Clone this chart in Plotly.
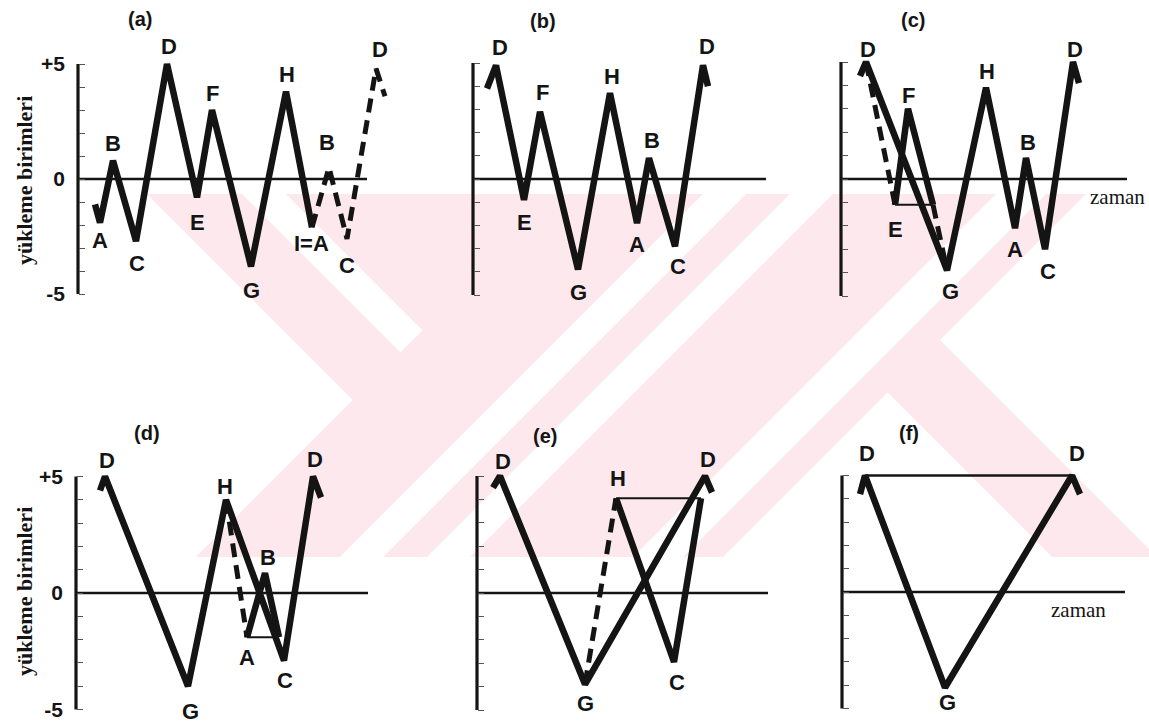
import plotly.graph_objects as go

W, H = 1149, 726

# ---------------------------------------------------------------------------
# Load histories (time in arbitrary units, load in "yükleme birimleri")
# ---------------------------------------------------------------------------
# (a) original history A..I, followed by the repeated part (dashed)
A_T = [1.7, 2.2, 3.5, 5.8, 8.9, 11.9, 13.4, 17.3, 20.8, 23.4]
A_V = [-1.1, -1.9, 0.8, -2.7, 5.0, -0.8, 3.0, -3.8, 3.8, -2.1]
A_LAB = ["", "A", "B", "C", "D", "E", "F", "G", "H", "I=A"]
A_DASH_T = [23.4, 25.1, 26.9, 29.8, 30.7]
A_DASH_V = [-2.1, 0.5, -2.6, 4.8, 3.6]
A_DASH_LAB = ["", "B", "C", "D", ""]

# (b) history rearranged to start at the highest peak D
B_T = [1.4, 2.3, 5.1, 6.7, 10.5, 13.7, 16.4, 17.6, 20.2, 23.0, 23.5]
B_V = [3.9, 4.9, -0.9, 2.9, -3.9, 3.7, -1.9, 0.9, -2.9, 4.9, 4.0]
B_LAB = ["", "D", "E", "F", "G", "H", "A", "B", "C", "D", ""]

# (c) cycle E-F-E' extracted
C_T = [1.9, 2.5, 10.6, 14.5, 17.4, 18.5, 20.4, 23.2, 23.8]
C_V = [4.4, 5.0, -3.9, 3.9, -2.1, 0.9, -3.0, 5.0, 4.1]
C_LAB = ["", "D", "G", "H", "A", "B", "C", "D", ""]
C_CYC_T = [5.4, 6.7, 9.2]
C_CYC_V = [-1.1, 3.0, -1.1]
C_CYC_LAB = ["E", "F", ""]
C_OLD1_T = [2.5, 5.4]
C_OLD1_V = [5.0, -1.1]
C_OLD2_T = [9.2, 10.6]
C_OLD2_V = [-1.1, -3.9]

# (d) cycle A-B-A' extracted
D_T = [2.4, 2.9, 11.2, 15.0, 20.8, 23.7, 24.5]
D_V = [4.4, 5.0, -4.0, 4.0, -2.9, 5.0, 4.1]
D_LAB = ["", "D", "G", "H", "C", "D", ""]
D_CYC_T = [17.1, 18.9, 20.3]
D_CYC_V = [-1.9, 0.85, -1.9]
D_CYC_LAB = ["A", "B", ""]
D_OLD_T = [15.0, 17.1]
D_OLD_V = [4.0, -1.9]

# (e) cycle H-C-H' extracted
E_T = [1.6, 2.3, 10.8, 22.8, 23.5]
E_V = [4.5, 5.0, -3.9, 5.0, 4.3]
E_LAB = ["", "D", "G", "D", ""]
E_CYC_T = [13.9, 19.7, 22.4]
E_CYC_V = [4.05, -2.95, 4.05]
E_CYC_LAB = ["H", "C", ""]
E_OLD_T = [10.8, 13.9]
E_OLD_V = [-3.9, 4.05]

# (f) remaining range D-G-D
F_T = [1.8, 2.3, 10.3, 23.0, 23.8]
F_V = [4.2, 5.0, -4.1, 5.0, 4.2]
F_LAB = ["", "D", "G", "D", ""]

Y_TICKS = [-5, -4, -3, -2, -1, 0, 1, 2, 3, 4, 5]
Y_TICK_TEXT = ["-5", "", "", "", "", "0", "", "", "", "", "+5"]
Y_TITLE = "yükleme birimleri"
X_TITLE = "zaman"

# ---------------------------------------------------------------------------
# Panel geometry (pixels): origin x, zero-line y, px per load unit,
# end of the time axis, right end of the x range
# ---------------------------------------------------------------------------
PANELS = {
    "a": dict(x0=78, y0=179, s=23.0, tend=28.9, thi=31.5),
    "b": dict(x0=473, y0=179, s=23.2, tend=29.3, thi=31.5),
    "c": dict(x0=841, y0=179, s=23.4, tend=28.6, thi=30.0),
    "d": dict(x0=76, y0=593, s=23.3, tend=29.2, thi=31.5),
    "e": dict(x0=477, y0=593, s=23.4, tend=29.1, thi=31.5),
    "f": dict(x0=842, y0=592, s=23.3, tend=28.3, thi=30.0),
}
PX_PER_T = 10.0
T_LO = -0.6
V_LO, V_HI = -5.6, 6.0

INK = "#141414"
PINK = "rgb(253,233,237)"
SANS = "Liberation Sans, Arial, sans-serif"
SERIF = "Liberation Serif, Times New Roman, serif"

fig = go.Figure()

# ---------------------------------------------------------------------------
# Background mark: diagonal bands clipped to a horizontal strip
# ---------------------------------------------------------------------------
STRIP_TOP, STRIP_BOT = 194, 557


def clip(poly, a, b, c):
    """Keep the part of a convex polygon with a*x + b*y <= c."""
    out = []
    n = len(poly)
    for i in range(n):
        p, q = poly[i], poly[(i + 1) % n]
        fp = a * p[0] + b * p[1] - c
        fq = a * q[0] + b * q[1] - c
        if fp <= 0:
            out.append(p)
        if (fp < 0 < fq) or (fq < 0 < fp):
            r = fp / (fp - fq)
            out.append((p[0] + r * (q[0] - p[0]), p[1] + r * (q[1] - p[1])))
    return out


def band(d_lo=None, d_hi=None, u_lo=None, u_hi=None):
    """Region of the strip with d_lo < x-y < d_hi and u_lo < x+y < u_hi."""
    poly = [(0, STRIP_TOP), (W, STRIP_TOP), (W, STRIP_BOT), (0, STRIP_BOT)]
    if d_lo is not None:
        poly = clip(poly, -1, 1, -d_lo)
    if d_hi is not None:
        poly = clip(poly, 1, -1, d_hi)
    if u_lo is not None:
        poly = clip(poly, -1, -1, -u_lo)
    if u_hi is not None:
        poly = clip(poly, 1, 1, u_hi)
    return poly


def add_poly(poly, color):
    if len(poly) < 3:
        return
    path = "M " + " L ".join(f"{x / W:.5f},{1 - y / H:.5f}" for x, y in poly) + " Z"
    fig.add_shape(type="path", path=path, xref="paper", yref="paper",
                  fillcolor=color, line=dict(width=0), layer="below")


# falling arms
add_poly(band(d_lo=-47, d_hi=495, u_hi=1000), PINK)
add_poly(band(d_lo=48, d_hi=92), "white")
add_poly(band(d_lo=495, d_hi=600, u_lo=1000), PINK)
# rising arm on top, with its light stripes
add_poly(band(u_lo=753, u_hi=1280), PINK)
add_poly(band(u_lo=897, u_hi=940), "white")
add_poly(band(u_lo=984, u_hi=1027), "white")
add_poly(band(u_lo=1190, u_hi=1240), "white")

# ---------------------------------------------------------------------------
# Axes
# ---------------------------------------------------------------------------
layout_axes = {}
for k, (name, g) in enumerate(PANELS.items(), start=1):
    xd0 = (g["x0"] + T_LO * PX_PER_T) / W
    xd1 = (g["x0"] + g["thi"] * PX_PER_T) / W
    yd0 = 1 - (g["y0"] - V_LO * g["s"]) / H
    yd1 = 1 - (g["y0"] - V_HI * g["s"]) / H
    sfx = "" if k == 1 else str(k)
    labelled = name in ("a", "d")
    layout_axes["xaxis" + sfx] = dict(
        domain=[xd0, xd1], range=[T_LO, g["thi"]], visible=False,
        anchor="y" + sfx, fixedrange=True)
    layout_axes["yaxis" + sfx] = dict(
        domain=[yd0, yd1], range=[V_LO, V_HI], anchor="free",
        position=g["x0"] / W, showgrid=False, zeroline=False, showline=False,
        ticks="inside", ticklen=6, tickwidth=1.2, tickcolor="#555",
        tickvals=Y_TICKS, ticktext=Y_TICK_TEXT, showticklabels=labelled,
        ticklabelstandoff=13,
        tickfont=dict(family=SANS, size=21, color=INK, weight="bold"),
        fixedrange=True)


def ax(name):
    k = list(PANELS).index(name) + 1
    return ("x" + ("" if k == 1 else str(k)), "y" + ("" if k == 1 else str(k)))


def line(name, t, v, width=6.5, dash=None):
    xa, ya = ax(name)
    fig.add_trace(go.Scatter(
        x=t, y=v, xaxis=xa, yaxis=ya, mode="lines", showlegend=False,
        hoverinfo="skip",
        line=dict(color=INK, width=width, dash=dash)))


def labels(name, t, v, texts, shifts):
    xa, ya = ax(name)
    for ti, vi, txt, (dx, dy) in zip(t, v, texts, shifts):
        if not txt:
            continue
        fig.add_annotation(
            x=ti, y=vi, xref=xa, yref=ya, text=txt, showarrow=False,
            xanchor="center", yanchor="middle", xshift=dx, yshift=dy,
            font=dict(family=SANS, size=22, color=INK, weight="bold"))


# axis frame of every panel: vertical load axis and horizontal time axis
for name, g in PANELS.items():
    line(name, [0, 0], [-5, 5], width=3.2)
    line(name, [0, g["tend"]], [0, 0], width=2.6)

DASH = "14px,8px"

# (a)
line("a", A_T, A_V)
line("a", A_DASH_T, A_DASH_V, width=5, dash=DASH)
labels("a", A_T, A_V, A_LAB,
       [(0, 0), (0, -18), (0, 17), (1, -22), (2, 17), (0, -25),
        (0, 16), (0, -24), (1, 17), (-1, -16)])
labels("a", A_DASH_T, A_DASH_V, A_DASH_LAB,
       [(0, 0), (-2, 25), (0, -27), (4, 19), (0, 0)])

# (b)
line("b", B_T, B_V)
labels("b", B_T, B_V, B_LAB,
       [(0, 0), (4, 18), (0, -23), (2, 19), (0, -23), (2, 17),
        (0, -21), (3, 18), (3, -20), (4, 19), (0, 0)])

# (c)
line("c", C_OLD1_T, C_OLD1_V, width=5, dash=DASH)
line("c", C_OLD2_T, C_OLD2_V, width=5, dash=DASH)
line("c", [C_CYC_T[0], C_CYC_T[2]], [C_CYC_V[0], C_CYC_V[2]], width=2.2)
line("c", C_CYC_T, C_CYC_V)
line("c", C_T, C_V)
labels("c", C_T, C_V, C_LAB,
       [(0, 0), (2, 13), (3, -21), (1, 16), (0, -21), (2, 15),
        (3, -22), (2, 13), (0, 0)])
labels("c", C_CYC_T, C_CYC_V, C_CYC_LAB, [(0, -25), (0, 13), (0, 0)])

# (d)
line("d", D_OLD_T, D_OLD_V, width=5, dash=DASH)
line("d", [D_CYC_T[0], D_CYC_T[2]], [D_CYC_V[0], D_CYC_V[2]], width=2.2)
line("d", D_CYC_T, D_CYC_V)
line("d", D_T, D_V)
labels("d", D_T, D_V, D_LAB,
       [(0, 0), (2, 16), (2, -25), (-1, 13), (1, -20), (2, 17), (0, 0)])
labels("d", D_CYC_T, D_CYC_V, D_CYC_LAB, [(0, -20), (3, 16), (0, 0)])

# (e)
line("e", E_OLD_T, E_OLD_V, width=5, dash=DASH)
line("e", [E_CYC_T[0], E_CYC_T[2]], [E_CYC_V[0], E_CYC_V[2]], width=2.2)
line("e", E_CYC_T, E_CYC_V)
line("e", E_T, E_V)
labels("e", E_T, E_V, E_LAB,
       [(0, 0), (3, 15), (0, -19), (3, 17), (0, 0)])
labels("e", E_CYC_T, E_CYC_V, E_CYC_LAB, [(2, 20), (3, -20), (0, 0)])

# (f)
line("f", [F_T[1], F_T[3]], [F_V[1], F_V[3]], width=2.4)
line("f", F_T, F_V)
labels("f", F_T, F_V, F_LAB,
       [(0, 0), (2, 22), (2, -15), (5, 22), (0, 0)])

# ---------------------------------------------------------------------------
# Panel captions, axis titles
# ---------------------------------------------------------------------------
CAPTIONS = {"a": (140, 19), "b": (543, 21), "c": (913, 20),
            "d": (147, 433), "e": (545, 436), "f": (909, 433)}
for name, (px, py) in CAPTIONS.items():
    fig.add_annotation(x=px / W, y=1 - py / H, xref="paper", yref="paper",
                       text=f"({name})", showarrow=False,
                       xanchor="center", yanchor="middle",
                       font=dict(family=SANS, size=20, color=INK, weight="bold"))

for py in (181, 592):
    fig.add_annotation(x=24 / W, y=1 - py / H, xref="paper", yref="paper",
                       text=Y_TITLE, textangle=-90, showarrow=False,
                       xanchor="center", yanchor="middle",
                       font=dict(family=SERIF, size=22, color=INK, weight="bold"))

for px, py in ((1117, 197), (1078, 610)):
    fig.add_annotation(x=px / W, y=1 - py / H, xref="paper", yref="paper",
                       text=X_TITLE, showarrow=False,
                       xanchor="center", yanchor="middle",
                       font=dict(family=SERIF, size=21, color=INK))

fig.update_layout(
    width=W, height=H, autosize=False,
    margin=dict(l=0, r=0, t=0, b=0),
    paper_bgcolor="white", plot_bgcolor="rgba(0,0,0,0)",
    showlegend=False,
    **layout_axes,
)

fig.write_html("out.html", config={"displayModeBar": False})
